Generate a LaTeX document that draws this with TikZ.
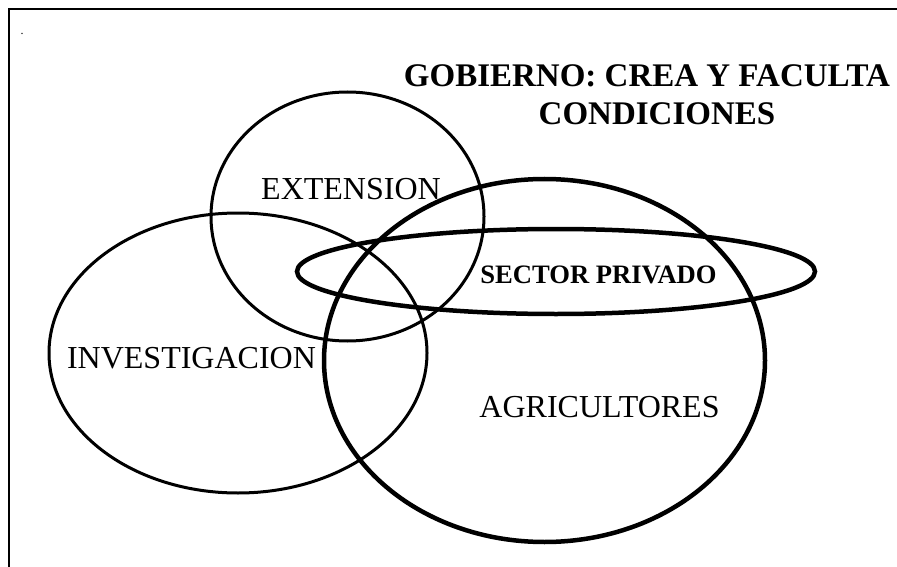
\documentclass[tikz,border=0pt]{standalone}
\usepackage{fontspec}
\setmainfont{Liberation Serif}
\usetikzlibrary{shapes.geometric}
\begin{document}
\begin{tikzpicture}[x=1pt,y=-1pt,
  thinring/.style={draw, ellipse, line width=3pt, inner sep=0pt, outer sep=0pt},
  thickring/.style={draw, ellipse, line width=4.5pt, inner sep=0pt, outer sep=0pt},
  lbl/.style={anchor=base, inner sep=0pt, font=\fontsize{32}{38}\selectfont},
  boldlbl/.style={anchor=base, inner sep=0pt, font=\fontsize{26.6}{32}\selectfont\bfseries},
  titlelbl/.style={anchor=base, inner sep=0pt, font=\fontsize{33}{38}\selectfont\bfseries}]
\useasboundingbox (0,0) rectangle (897,567);
% frame (left and top only)
\coordinate (fb) at (8.5,567);
\coordinate (fc) at (8.5,9.5);
\coordinate (fr) at (897,9.5);
\draw[line width=2pt] (fb) -- (fc) -- (fr);
\node[inner sep=0pt, font=\fontsize{12}{14}\selectfont] (dot) at (22,34) {.};
% rings
\node[thinring, minimum width=273pt, minimum height=249pt] (ext) at (347.5,216.5) {};
\node[thinring, minimum width=378pt, minimum height=280pt] (inv) at (238,353) {};
\node[thickring, minimum width=441pt, minimum height=363pt] (agr) at (544.5,360.5) {};
\node[thickring, minimum width=518pt, minimum height=85pt] (sec) at (556,271.5) {};
% labels
\node[lbl] (extl) at (351,199) {EXTENSION};
\node[lbl] (invl) at (191.5,368) {INVESTIGACION};
\node[lbl] (agrl) at (599.5,417) {AGRICULTORES};
\node[boldlbl] (secl) at (598.5,283) {SECTOR PRIVADO};
\node[titlelbl] (t1) at (647,87) {GOBIERNO: CREA Y FACULTA};
\node[titlelbl] (t2) at (657,125) {CONDICIONES};
\end{tikzpicture}
\end{document}
